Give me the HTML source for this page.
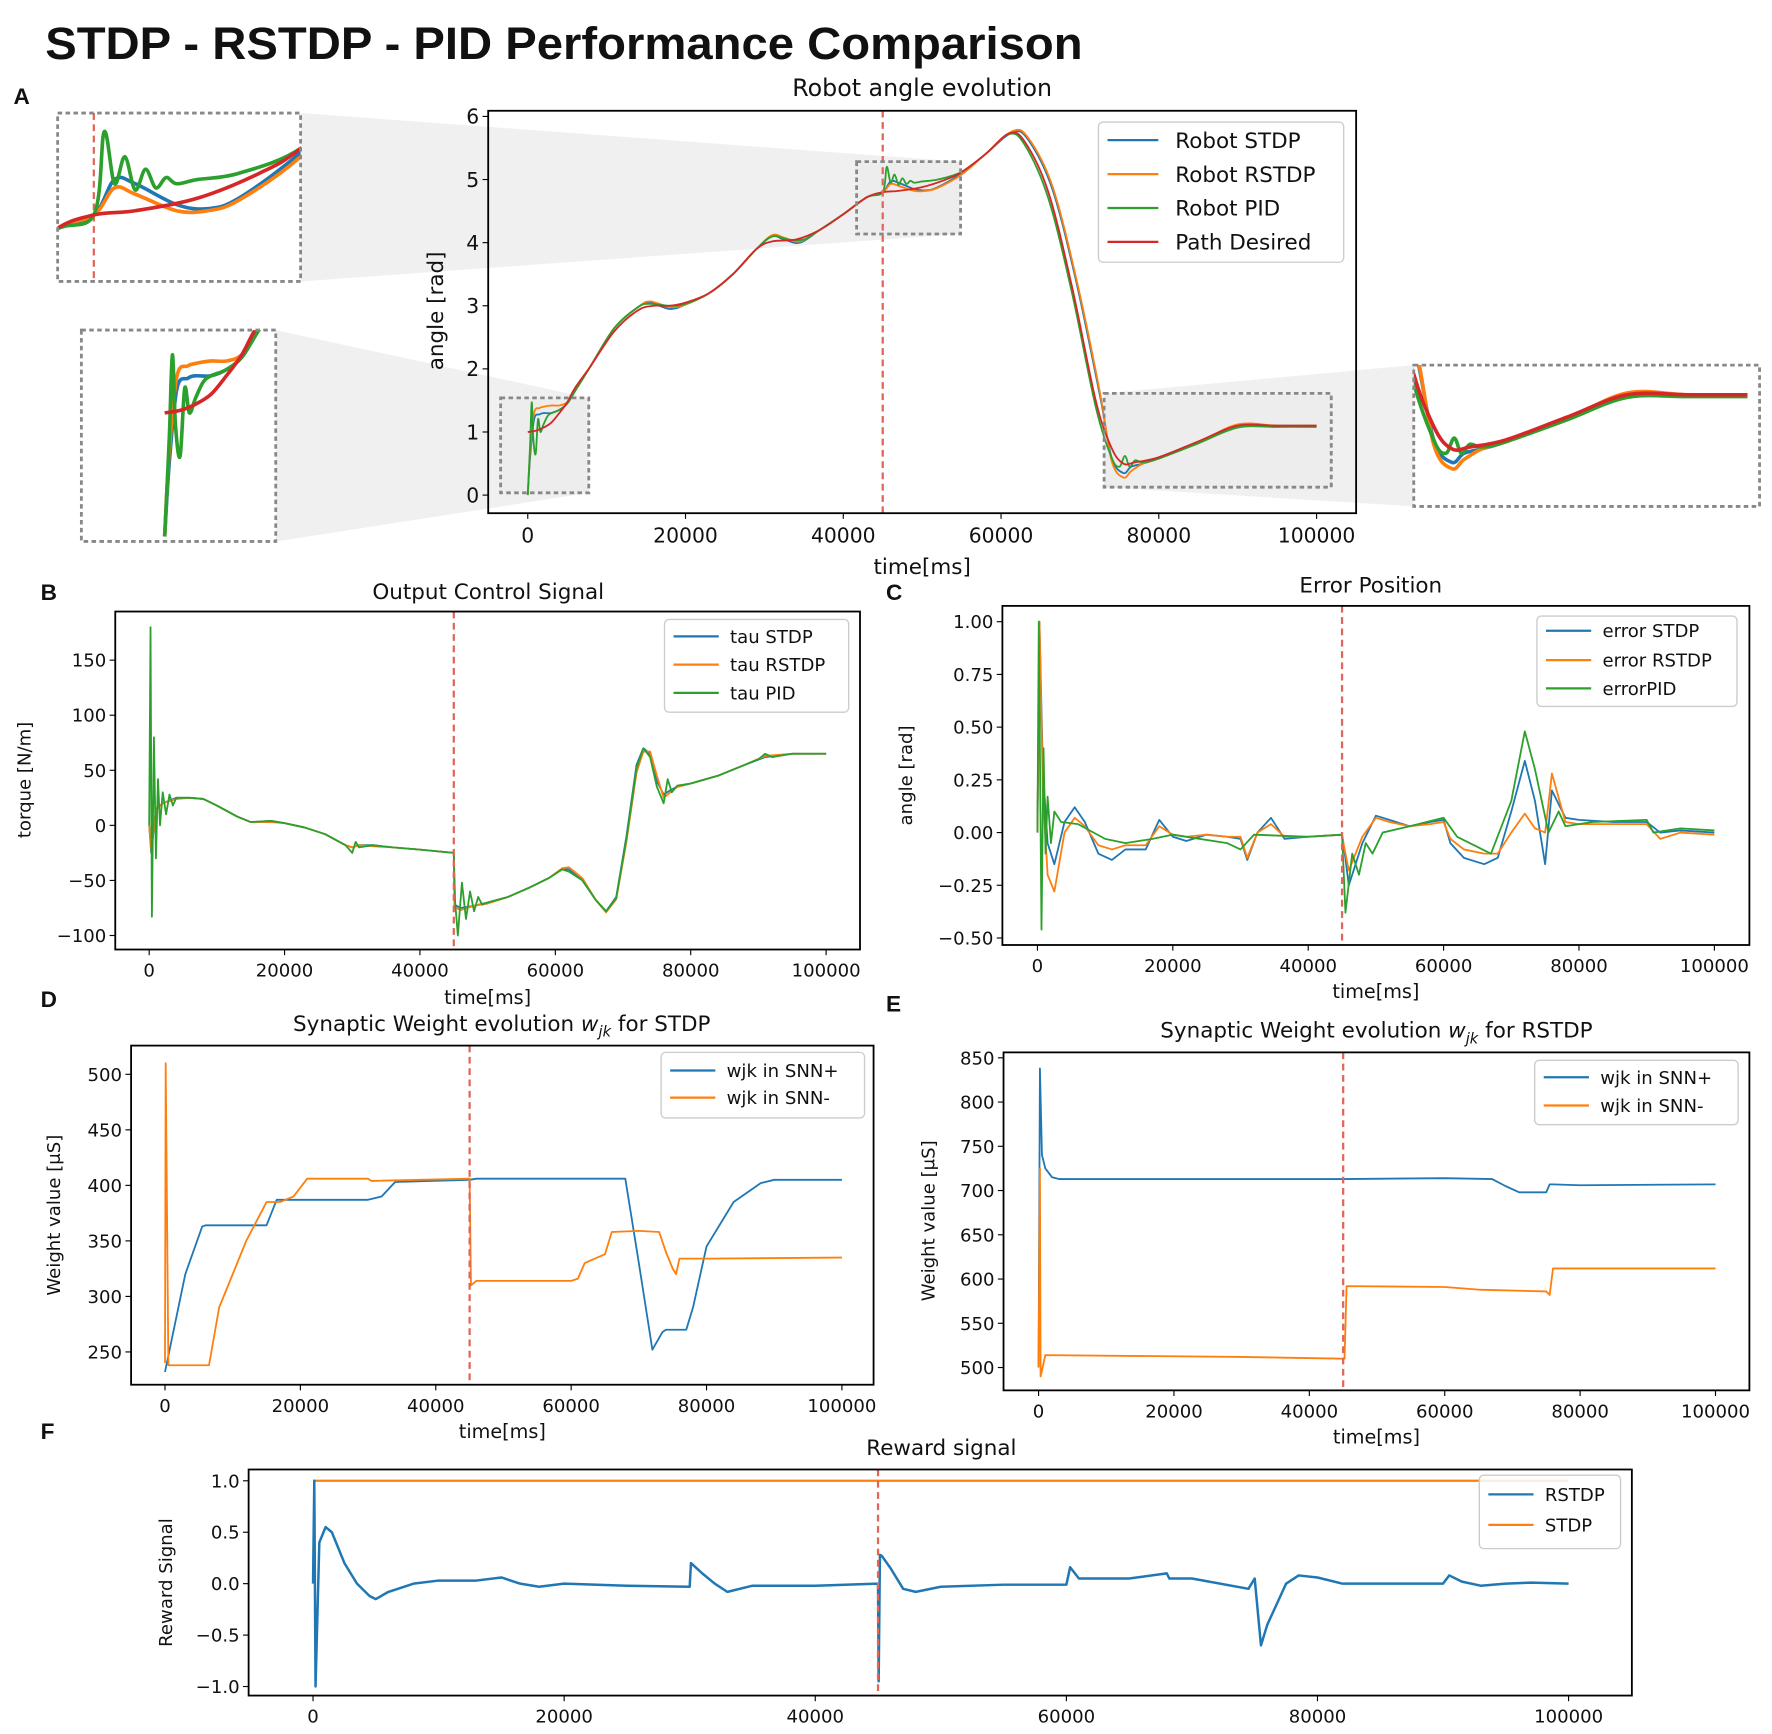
<!DOCTYPE html>
<html><head><meta charset="utf-8"><style>
html,body{margin:0;padding:0;background:#fff}
svg{display:block}
text{font-family:"DejaVu Sans","Liberation Sans",sans-serif;fill:#111}
</style></head><body>
<svg id="fig" xmlns="http://www.w3.org/2000/svg" width="1772" height="1734" viewBox="0 0 1568 1534" preserveAspectRatio="none">
<text x="40" y="52" font-size="40" font-weight="bold" style="font-family:'Liberation Sans',sans-serif" textLength="918" lengthAdjust="spacingAndGlyphs">STDP - RSTDP - PID Performance Comparison</text>
</svg>
<script>
// ---------- Panel A data ----------
const tDes=[0,1000,2000,3000,4000,5000,6000,8000,11000,14000,16000,18000,20000,23000,26000,29000,31000,34000,37000,40000,43000,45000,47000,50000,53000,55000,58000,61000,63000,66000,69000,72000,74000,75500,77000,80000,85000,90000,95000,100000];
const vDes=[1.0,1.02,1.07,1.15,1.3,1.47,1.7,2.05,2.6,2.93,3.0,3.0,3.05,3.2,3.5,3.9,4.02,4.05,4.2,4.45,4.72,4.8,4.82,4.88,5.0,5.12,5.4,5.73,5.6,4.8,3.3,1.5,0.75,0.5,0.52,0.6,0.85,1.1,1.1,1.1];
const tRob=[0,300,800,1500,2000,3000,4000,5000,6000,8000,11000,14000,15500,18000,20000,23000,26000,29000,31000,32500,34500,37000,40000,43000,45000,46000,47000,49000,50500,52000,55000,58000,61500,63500,66500,69500,72500,74000,75500,76500,78000,80000,85000,90000,95000,100000];
const vStdpA=[0,0.6,1.2,1.28,1.3,1.3,1.35,1.45,1.65,2.05,2.65,2.98,3.05,2.95,3.02,3.2,3.5,3.9,4.1,4.05,4.0,4.2,4.45,4.72,4.8,4.97,4.95,4.85,4.83,4.88,5.1,5.4,5.75,5.62,4.85,3.4,1.6,0.6,0.35,0.45,0.5,0.58,0.83,1.1,1.1,1.1];
const vRstdpA=[0,0.7,1.3,1.38,1.4,1.42,1.42,1.47,1.65,2.05,2.65,2.98,3.07,2.98,3.02,3.2,3.5,3.9,4.12,4.08,4.02,4.2,4.45,4.72,4.8,4.93,4.9,4.82,4.82,4.87,5.08,5.4,5.77,5.65,4.9,3.45,1.65,0.55,0.28,0.38,0.5,0.58,0.83,1.12,1.1,1.1];
const tPidA=[0,300,500,700,1000,1300,1600,2000,2500,3000,4000,5000,6000,8000,11000,14000,15500,18000,20000,23000,26000,29000,31000,33000,35000,37000,40000,43000,45000,45500,46000,46500,47000,47500,48000,48500,49000,50000,52000,55000,58000,61000,63000,66000,69000,72000,74000,75000,75700,76300,77000,78000,80000,85000,90000,95000,100000];
const vPidA=[0,0.8,1.47,0.9,0.65,1.2,1.0,1.12,1.25,1.3,1.35,1.45,1.65,2.05,2.65,2.98,3.03,3.0,3.03,3.2,3.5,3.9,4.1,4.05,4.05,4.2,4.45,4.72,4.8,5.2,4.95,5.08,4.92,5.02,4.93,4.98,4.95,4.97,5.0,5.12,5.4,5.72,5.55,4.7,3.2,1.4,0.6,0.45,0.62,0.45,0.55,0.52,0.58,0.82,1.07,1.08,1.08];
// ---------- Panel B data ----------
const tTau=[0,300,1000,2000,4000,6000,8000,10000,13000,15000,18000,20000,23000,26000,29000,30000,31000,33000,36000,40000,45000,45100,46000,48000,50000,53000,56000,59000,61000,62000,64000,66000,67500,69000,70500,72000,73000,74000,75000,76000,77000,78000,80000,84000,88000,91000,95000,100000];
const vTauStdp=[0,-25,15,20,25,25,24,18,8,3,4,2,-2,-8,-18,-20,-18,-18,-20,-22,-25,-72,-75,-73,-70,-65,-57,-48,-40,-40,-50,-68,-78,-65,-10,55,70,65,40,28,32,35,38,45,55,62,65,65];
const vTauRstdp=[0,-22,14,20,24,25,24,18,8,3,3,2,-2,-8,-18,-20,-18,-19,-20,-22,-25,-74,-77,-73,-71,-65,-57,-48,-39,-38,-48,-68,-79,-67,-15,48,67,67,45,25,30,35,38,45,55,63,65,65];
const tTauPid=[0,200,400,700,1000,1300,1600,2000,2500,3000,3500,4000,6000,8000,10000,13000,15000,18000,20000,23000,26000,29000,30000,30500,31000,33000,36000,40000,45000,45200,45600,46200,46800,47400,48000,48600,49200,50000,53000,56000,59000,61000,62000,64000,66000,67500,69000,70500,72000,73000,74000,75000,76000,76600,77200,78000,80000,84000,88000,90000,91000,92000,95000,100000];
const vTauPid=[0,180,-83,80,-30,42,0,30,10,28,18,25,25,24,18,8,3,4,2,-2,-8,-18,-25,-15,-20,-18,-20,-22,-25,-70,-100,-52,-85,-60,-78,-65,-72,-70,-65,-57,-48,-40,-42,-50,-68,-78,-66,-12,52,70,62,35,20,42,30,36,38,45,55,60,65,62,65,65];
// ---------- Panel C data ----------
const tErr=[0,300,800,1500,2500,4000,5500,7000,9000,11000,13000,16000,18000,20000,22000,25000,28000,30000,31000,32500,34500,36500,40000,45000,45200,46000,48000,50000,52000,55000,58000,60000,61000,63000,66000,68000,70000,72000,73500,75000,76000,78000,80000,85000,90000,92000,95000,100000];
const vErrStdp=[0,1.0,0.3,-0.05,-0.15,0.05,0.12,0.05,-0.1,-0.13,-0.08,-0.08,0.06,-0.02,-0.04,-0.01,-0.02,-0.03,-0.13,0.0,0.07,-0.03,-0.02,-0.01,-0.05,-0.25,-0.05,0.08,0.06,0.03,0.05,0.06,-0.05,-0.12,-0.15,-0.12,0.1,0.34,0.15,-0.15,0.2,0.07,0.06,0.05,0.05,0.0,0.01,0.0];
const vErrRstdp=[0,1.0,0.2,-0.2,-0.28,0.0,0.07,0.03,-0.06,-0.08,-0.06,-0.06,0.03,-0.01,-0.02,-0.01,-0.02,-0.02,-0.12,0.0,0.04,-0.02,-0.02,-0.01,-0.05,-0.18,-0.02,0.07,0.05,0.03,0.04,0.05,-0.03,-0.08,-0.1,-0.1,0.0,0.09,0.02,0.0,0.28,0.05,0.04,0.04,0.04,-0.03,0.0,-0.01];
const tErrPid=[0,200,600,900,1200,1500,2000,2500,3500,6000,10000,13000,17000,20000,28000,30000,32000,40000,45000,45500,46500,47500,48500,49500,51000,55000,60000,62000,67000,70000,72000,73500,75500,77000,78000,82000,90000,91000,95000,100000];
const vErrPid=[0,1.0,-0.46,0.4,-0.1,0.17,-0.05,0.1,0.05,0.04,-0.03,-0.05,-0.03,-0.01,-0.05,-0.08,-0.01,-0.02,-0.01,-0.38,-0.1,-0.2,-0.05,-0.1,0.0,0.03,0.07,-0.02,-0.1,0.15,0.48,0.3,0.0,0.1,0.03,0.05,0.06,0.0,0.02,0.01];
// ---------- Panel D data ----------
const tWdPlus=[0,3000,5500,6000,15000,16500,30000,32000,34000,45000,46000,68000,70000,72000,73500,74000,77000,78000,80000,84000,88000,90000,100000];
const vWdPlus=[232,320,363,364,364,387,387,390,403,405,406,406,330,252,268,270,270,290,345,385,402,405,405];
const tWdMinus=[0,100,500,6500,8000,12000,15000,17000,19000,21000,30000,30500,45000,45200,46000,60000,61000,62000,65000,66000,70000,73000,74000,75000,75500,76000,80000,100000];
const vWdMinus=[240,510,238,238,290,350,385,385,390,406,406,404,406,310,314,314,316,330,338,358,359,358,340,325,320,334,334,335];
// ---------- Panel E data ----------
const tWePlus=[0,200,500,1000,2000,3000,45000,60000,67000,69000,71000,73500,75000,75500,76000,80000,100000];
const vWePlus=[500,838,740,725,715,713,713,714,713,705,698,698,698,707,707,706,707];
const tWeMinus=[0,200,300,1000,30000,45000,45200,45500,60000,65000,75000,75500,76000,100000];
const vWeMinus=[500,725,490,514,512,510,510,592,591,588,586,582,612,612];
// ---------- Panel F data ----------
const tRew=[0,100,200,500,1000,1500,2500,3500,4500,5000,6000,8000,10000,13000,15000,16500,18000,20000,25000,30000,30100,31000,32000,33000,35000,40000,45000,45050,45150,45300,46000,47000,48000,50000,55000,60000,60300,61000,62000,65000,68000,68200,70000,74500,75000,75500,76000,77500,78500,80000,82000,85000,90000,90500,91500,93000,95000,97000,100000];
const vRewRstdp=[0,1.0,-1.0,0.4,0.55,0.5,0.2,0.0,-0.12,-0.15,-0.08,0.0,0.03,0.03,0.06,0.0,-0.03,0.0,-0.02,-0.03,0.2,0.1,0.0,-0.08,-0.02,-0.02,0.0,-0.95,0.28,0.27,0.15,-0.05,-0.08,-0.03,-0.01,-0.01,0.16,0.05,0.05,0.05,0.1,0.05,0.05,-0.05,0.05,-0.6,-0.4,0.0,0.08,0.06,0.0,0.0,0.0,0.08,0.02,-0.02,0.0,0.01,0.0];
const tRewStdp=[0,100000];
const vRewStdp=[1.0,1.0];
// tick labels
const xTicks=[0,20000,40000,60000,80000,100000];
const yTicksA=[0,1,2,3,4,5,6];
const yTicksB=[-100,-50,0,50,100,150];
const yTicksC=[-0.5,-0.25,0,0.25,0.5,0.75,1.0];
const yTicksD=[250,300,350,400,450,500];
const yTicksE=[500,550,600,650,700,750,800,850];
const yTicksF=[-1.0,-0.5,0.0,0.5,1.0];
const switchTime=45000;

const NS='http://www.w3.org/2000/svg';
const svg=document.getElementById('fig');
const C={b:'#1f77b4',o:'#ff7f0e',g:'#2ca02c',r:'#d62728'};
function mk(tag,attrs,parent){const e=document.createElementNS(NS,tag);for(const k in attrs)e.setAttribute(k,attrs[k]);(parent||svg).appendChild(e);return e;}
function lin(a0,p0,a1,p1){return v=>p0+(v-a0)*(p1-p0)/(a1-a0);}
let clipN=0;
function clip(x0,y0,x1,y1){const id='cp'+(clipN++);const cp=mk('clipPath',{id:id});mk('rect',{x:x0,y:y0,width:x1-x0,height:y1-y0},cp);return 'url(#'+id+')';}
function line(g,sx,sy,ts,vs,color,w,smooth){
  const P=ts.map((t,i)=>[sx(t),sy(vs[i])]);
  let d='M'+P[0][0].toFixed(2)+','+P[0][1].toFixed(2);
  for(let i=1;i<P.length;i++){
    if(smooth){
      const p0=P[Math.max(0,i-2)],p1=P[i-1],p2=P[i],p3=P[Math.min(P.length-1,i+1)];
      const k=1/6;
      const c1=[p1[0]+(p2[0]-p0[0])*k,p1[1]+(p2[1]-p0[1])*k];
      const c2=[p2[0]-(p3[0]-p1[0])*k,p2[1]-(p3[1]-p1[1])*k];
      d+='C'+c1[0].toFixed(2)+','+c1[1].toFixed(2)+' '+c2[0].toFixed(2)+','+c2[1].toFixed(2)+' '+p2[0].toFixed(2)+','+p2[1].toFixed(2);
    } else d+='L'+P[i][0].toFixed(2)+','+P[i][1].toFixed(2);
  }
  return mk('path',{d:d,fill:'none',stroke:color,'stroke-width':w,'stroke-linejoin':'round'},g);
}
function fmt(v,dec){const s=dec?Math.abs(v).toFixed(dec):String(Math.abs(v));return (v<0?'\u2212':'')+s;}
function axes(p){
  const g=mk('g',{});
  
  
  const sx=lin(0,p.xp0,100000,p.xp1), sy=lin(p.ya,p.yap,p.yb,p.ybp);
  const bg=mk('rect',{x:p.x0,y:p.y0,width:p.x1-p.x0,height:p.y1-p.y0,fill:'#fff'},g);
  
  
  const fs=p.fs||16;
  xTicks.forEach(t=>{
    const x=sx(t);mk('line',{x1:x,x2:x,y1:p.y1,y2:p.y1+5,stroke:'#000','stroke-width':1},g);
    const tx=mk('text',{x:x,y:p.y1+fs+8,'font-size':fs,'text-anchor':'middle'},g);tx.textContent=t;
    
    
  });
  p.yt.forEach(v=>{
    const y=sy(v);mk('line',{x1:p.x0-5,x2:p.x0,y1:y,y2:y,stroke:'#000','stroke-width':1},g);
    const tx=mk('text',{x:p.x0-8,y:y+fs*0.36,'font-size':fs,'text-anchor':'end'},g);tx.textContent=fmt(v,p.dec);
    
    
  });
  const ti=mk('text',{x:p.tx,y:p.ty,'font-size':p.tfs||19,'text-anchor':'middle'},g);
  if(p.titleHtml){ti.innerHTML=p.titleHtml;}else ti.textContent=p.title;
  
  
  if(p.xl){const t=mk('text',{x:(p.x0+p.x1)/2,y:p.xly,'font-size':fs+1,'text-anchor':'middle'},g);t.textContent='time[ms]';
    
    }
  const yl=mk('text',{x:0,y:0,'font-size':p.ylfs||fs,'text-anchor':'middle',transform:'translate('+p.ylx+','+p.yly+') rotate(-90)'},g);
  yl.textContent=p.yl;
  
  
  const lg=mk('g',{'clip-path':clip(p.x0,p.y0,p.x1,p.y1)},g);
  
  
  return {g,lg,sx,sy,p,bg};
}
function finish(A,series,leg,smooth){
  const p=A.p;
  const vx=A.sx(switchTime);
  const dl=mk('line',{x1:vx,x2:vx,y1:p.y0,y2:p.y1,stroke:'#e0665a','stroke-width':2,'stroke-dasharray':'6,4'},A.g);
  
  
  series.forEach(s=>{const l=line(A.lg,A.sx,A.sy,s.t,s.v,s.c,s.w||1.6,smooth);
    
    });
  const fr=mk('rect',{x:p.x0,y:p.y0,width:p.x1-p.x0,height:p.y1-p.y0,fill:'none',stroke:'#000','stroke-width':1.6},A.g);
  
  
  const L=mk('g',{},A.g);
  
  
  mk('rect',{x:leg.x0,y:leg.y0,width:leg.x1-leg.x0,height:leg.y1-leg.y0,rx:4,fill:'#fff','fill-opacity':0.85,stroke:'#ccc','stroke-width':1.2},L);
  leg.items.forEach((it,i)=>{
    const y=leg.ys[i];
    const e=mk('g',{},L);
    
    
    mk('line',{x1:leg.x0+8,x2:leg.x0+8+leg.lw,y1:y,y2:y,stroke:it[1],'stroke-width':2},e);
    const t=mk('text',{x:leg.x0+leg.tx,y:y+leg.fs*0.36,'font-size':leg.fs},e);t.textContent=it[0];
  });
}
function label(txt,x,y){const t=mk('text',{x:x,y:y,'font-size':20,'font-weight':'bold',style:"font-family:'Liberation Sans',sans-serif"});t.textContent=txt;
  
  }

// ===== Panel A =====
label('A',12,92);
const A=axes({name:'angle-chart',x0:432,x1:1200,y0:98,y1:454,xp0:467,xp1:1165,ya:0,yap:438,yb:6,ybp:103,yt:yTicksA,fs:18,
  tx:816,ty:85,title:'Robot angle evolution',tfs:21,xl:true,xly:508,yl:'angle [rad]',ylx:392,yly:275,ylfs:19});
const shade=document.createElementNS(NS,'g');
shade.setAttribute('fill','#ececec');
shade.setAttribute('fill-opacity','0.8');


A.g.insertBefore(shade,A.bg.nextSibling);
mk('polygon',{points:'266,100 850,143 850,207 266,249'},shade);
mk('polygon',{points:'244,292 521,352 521,436 244,479'},shade);
mk('polygon',{points:'977,348 1251,323 1251,448 977,431'},shade);
mk('rect',{x:758,y:143,width:92,height:64},shade);
mk('rect',{x:443,y:352,width:78,height:84},shade);
mk('rect',{x:977,y:348,width:201,height:83},shade);
const seriesA=[{n:'robot-stdp-line',t:tRob,v:vStdpA,c:C.b},{n:'robot-rstdp-line',t:tRob,v:vRstdpA,c:C.o},{n:'robot-pid-line',t:tPidA,v:vPidA,c:C.g},{n:'path-desired-line',t:tDes,v:vDes,c:C.r}];
finish(A,seriesA,{x0:972,x1:1189,y0:108,y1:232,ys:[124,154,184,214],lw:45,tx:68,fs:19,items:[['Robot STDP',C.b],['Robot RSTDP',C.o],['Robot PID',C.g],['Path Desired',C.r]]},true);
[[443,352,521,436],[758,143,850,207],[977,348,1178,431]].forEach(r=>{
  const z=mk('rect',{x:r[0],y:r[1],width:r[2]-r[0],height:r[3]-r[1],fill:'none',stroke:'#888','stroke-width':2.5,'stroke-dasharray':'4,3'});
  
  
});
function inset(name,box,tr,vr,dash){
  const g=mk('g',{});
  
  
  const sx=lin(tr[0],box[0],tr[1],box[2]), sy=lin(vr[0],box[3],vr[1],box[1]);
  mk('rect',{x:box[0],y:box[1],width:box[2]-box[0],height:box[3]-box[1],fill:'#fff'},g);
  const lg=mk('g',{'clip-path':clip(box[0],box[1],box[2],box[3])},g);
  if(dash){const x=sx(switchTime);mk('line',{x1:x,x2:x,y1:box[1],y2:box[3],stroke:'#e0665a','stroke-width':2,'stroke-dasharray':'6,4'},lg);}
  seriesA.forEach(s=>{const l=line(lg,sx,sy,s.t,s.v,s.c,3.2,true);
    
    });
  mk('rect',{x:box[0],y:box[1],width:box[2]-box[0],height:box[3]-box[1],fill:'none',stroke:'#888','stroke-width':2.5,'stroke-dasharray':'4,3'},g);
}
inset('inset-switch',[51,100,266,249],[43250,55000],[4.48,5.29],true);
inset('inset-start',[72,292,244,479],[-5400,7200],[-0.04,1.67],false);
inset('inset-return',[1251,323,1557,448],[72350,101000],[-0.14,1.43],false);

// ===== Panel B =====
label('B',36,531);
const B=axes({name:'control-signal-chart',x0:102,x1:761,y0:541,y1:840,xp0:132,xp1:731,ya:150,yap:584,yb:-100,ybp:827.6,yt:yTicksB,
  tx:432,ty:530,title:'Output Control Signal',xl:true,xly:888,yl:'torque [N/m]',ylx:27,yly:690});
finish(B,[{n:'tau-stdp-line',t:tTau,v:vTauStdp,c:C.b},{n:'tau-rstdp-line',t:tTau,v:vTauRstdp,c:C.o},{n:'tau-pid-line',t:tTauPid,v:vTauPid,c:C.g}],
  {x0:588,x1:751,y0:548,y1:630,ys:[563,588,613],lw:40,tx:58,fs:16,items:[['tau STDP',C.b],['tau RSTDP',C.o],['tau PID',C.g]]});

// ===== Panel C =====
label('C',784,531);
const Cc=axes({name:'error-position-chart',x0:887,x1:1548,y0:536,y1:836,xp0:918,xp1:1517,ya:1.0,yap:550,yb:-0.5,ybp:829.8,yt:yTicksC,dec:2,
  tx:1213,ty:524,title:'Error Position',xl:true,xly:883,yl:'angle [rad]',ylx:807,yly:686});
finish(Cc,[{n:'error-stdp-line',t:tErr,v:vErrStdp,c:C.b},{n:'error-rstdp-line',t:tErr,v:vErrRstdp,c:C.o},{n:'error-pid-line',t:tErrPid,v:vErrPid,c:C.g}],
  {x0:1360,x1:1537,y0:545,y1:625,ys:[558,584,609],lw:40,tx:58,fs:16,items:[['error STDP',C.b],['error RSTDP',C.o],['errorPID',C.g]]});

// ===== Panel D =====
label('D',36,891);
const D=axes({name:'weight-stdp-chart',x0:116,x1:773,y0:925,y1:1225,xp0:146,xp1:745,ya:500,yap:950.4,yb:250,ybp:1196,yt:yTicksD,
  tx:444,ty:912,titleHtml:'Synaptic Weight evolution <tspan font-style="italic">w</tspan><tspan font-style="italic" font-size="13" dy="5">jk</tspan><tspan dy="-5"> for STDP</tspan>',xl:true,xly:1272,yl:'Weight value [\u03bcS]',ylx:53,yly:1075});
finish(D,[{n:'wjk-snn-plus-line',t:tWdPlus,v:vWdPlus,c:C.b},{n:'wjk-snn-minus-line',t:tWdMinus,v:vWdMinus,c:C.o}],
  {x0:585,x1:765,y0:931,y1:989,ys:[947,971],lw:40,tx:58,fs:16,items:[['wjk in SNN+',C.b],['wjk in SNN-',C.o]]});

// ===== Panel E =====
label('E',784,895);
const E=axes({name:'weight-rstdp-chart',x0:888,x1:1548,y0:931,y1:1230,xp0:919,xp1:1518,ya:850,yap:935.8,yb:500,ybp:1209.8,yt:yTicksE,
  tx:1218,ty:918,titleHtml:'Synaptic Weight evolution <tspan font-style="italic">w</tspan><tspan font-style="italic" font-size="13" dy="5">jk</tspan><tspan dy="-5"> for RSTDP</tspan>',xl:true,xly:1277,yl:'Weight value [\u03bcS]',ylx:827,yly:1080});
finish(E,[{n:'wjk-snn-plus-line',t:tWePlus,v:vWePlus,c:C.b},{n:'wjk-snn-minus-line',t:tWeMinus,v:vWeMinus,c:C.o}],
  {x0:1358,x1:1538,y0:938,y1:995,ys:[953,978],lw:40,tx:58,fs:16,items:[['wjk in SNN+',C.b],['wjk in SNN-',C.o]]});

// ===== Panel F =====
label('F',36,1273);
const F=axes({name:'reward-chart',x0:220,x1:1444,y0:1300,y1:1500,xp0:277,xp1:1388,ya:1.0,yap:1310,yb:-1.0,ybp:1492,yt:yTicksF,dec:1,
  tx:833,ty:1287,title:'Reward signal',xl:false,yl:'Reward Signal',ylx:152,yly:1400});
finish(F,[{n:'reward-stdp-line',t:tRewStdp,v:vRewStdp,c:C.o,w:2},{n:'reward-rstdp-line',t:tRew,v:vRewRstdp,c:C.b,w:2.2}],
  {x0:1309,x1:1434,y0:1305,y1:1370,ys:[1322,1349],lw:40,tx:58,fs:16,items:[['RSTDP',C.b],['STDP',C.o]]});
</script>
</body></html>
